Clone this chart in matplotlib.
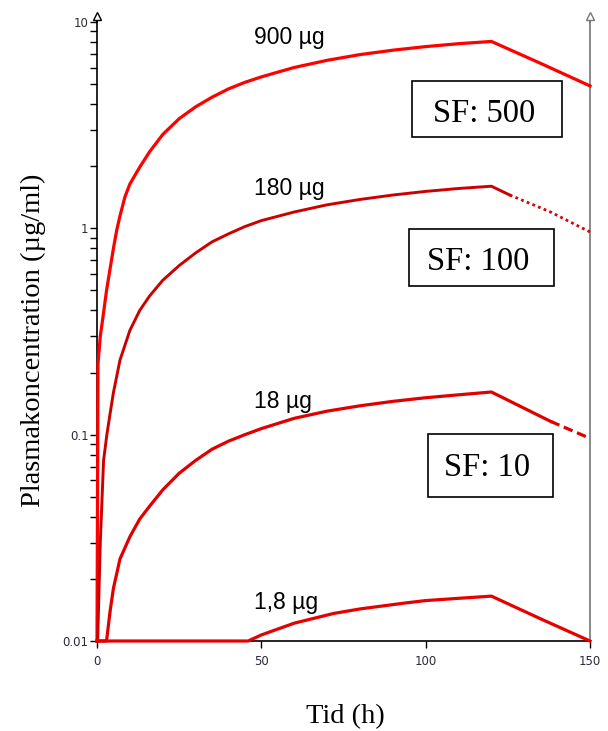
import matplotlib.pyplot as plt
from matplotlib.patches import Rectangle

W, H = 608, 731

# time grid (h) and read-off concentrations (ug/ml)
t900 = [0, 0.3, 1, 1.9, 2.9, 4, 5, 6, 7, 8.5, 10, 13, 16, 20, 25, 30, 35, 40, 45, 50, 60, 70, 80, 90, 100,
        110, 120, 135, 150]
c900 = [0.01, 0.22, 0.3, 0.38, 0.5, 0.64, 0.8, 0.98, 1.15, 1.42, 1.64, 1.98, 2.35, 2.85, 3.4, 3.88, 4.32,
        4.74, 5.1, 5.42, 6.02, 6.52, 6.95, 7.3, 7.6, 7.85, 8.05, 6.3, 4.9]

t180 = [0.2, 1, 2, 3, 4, 5, 7, 10, 13, 16, 20, 25, 30, 35, 40, 45, 50, 60, 70, 80, 90, 100, 110, 120, 125.6]
c180 = [0.01, 0.03, 0.075, 0.1, 0.127, 0.16, 0.23, 0.32, 0.4, 0.47, 0.56, 0.66, 0.76, 0.86, 0.94, 1.02, 1.09,
        1.2, 1.3, 1.38, 1.45, 1.51, 1.56, 1.6, 1.45]
t180_fall = [125.6, 138, 150]
c180_fall = [1.45, 1.2, 0.96]

t18 = [0, 2.9, 4, 5, 7, 10, 13, 16, 20, 25, 30, 35, 40, 45, 50, 60, 70, 80, 90, 100, 110, 120, 138]
c18 = [0.01, 0.01, 0.014, 0.018, 0.025, 0.032, 0.039, 0.045, 0.054, 0.065, 0.075, 0.085, 0.093, 0.1, 0.107,
       0.12, 0.13, 0.138, 0.145, 0.151, 0.156, 0.161, 0.116]
t18_fall = [138, 150]
c18_fall = [0.116, 0.096]

t1_8 = [0, 46, 50, 60, 72, 80, 94, 100, 110, 120, 135, 150]
c1_8 = [0.01, 0.01, 0.0107, 0.0122, 0.0136, 0.0143, 0.0153, 0.0157, 0.0161, 0.0165, 0.0128, 0.01]

dose_labels = ['900 µg', '180 µg', '18 µg', '1,8 µg']
sf_labels = ['SF: 500', 'SF: 100', 'SF: 10']

fig = plt.figure(figsize=(W / 100, H / 100), dpi=100)
ax = fig.add_axes([97 / W, 1 - 641 / H, 493 / W, (641 - 22) / H])

lw = 2.3
ax.plot(t900, c900, color='#ff0000', lw=lw, zorder=4, clip_on=False)
ax.plot(t180, c180, color='#cc0000', lw=2.1, zorder=4, clip_on=False)
ax.plot(t180_fall, c180_fall, color='#dd0000', lw=2.0, ls=(0, (1, 1.2)), zorder=4, clip_on=False)
ax.plot(t18, c18, color='#e00000', lw=lw, zorder=4, clip_on=False)
ax.plot(t18_fall, c18_fall, color='#e00000', lw=lw, ls=(0, (3, 1.5)), zorder=4, clip_on=False)
ax.plot(t1_8, c1_8, color='#e60000', lw=lw, zorder=4, clip_on=False)

ax.set_yscale('log')
ax.set_xlim(0, 150)
ax.set_ylim(0.01, 10)
ax.set_xticks([0, 50, 100, 150])
ax.set_yticks([0.01, 0.1, 1, 10])
ax.set_yticklabels(['0.01', '0.1', '1', '10'])

ax.spines['top'].set_visible(False)
ax.spines['left'].set_linewidth(1.2)
ax.spines['bottom'].set_linewidth(1.2)
ax.spines['right'].set_color('#777777')
ax.spines['right'].set_linewidth(1.2)
ax.tick_params(axis='y', which='major', length=5, width=1, labelsize=8.5,
               labelcolor='#2a2a3a', pad=1)
ax.tick_params(axis='y', which='minor', length=5, width=1)
ax.tick_params(axis='x', length=5, width=1, labelsize=8.5, labelcolor='#2a2a3a', pad=5)
ax.tick_params(right=False, which='both')

# axis arrows
for xa, col in [(0, 'black'), (1, '#777777')]:
    ax.plot([xa, xa], [1, 1.01], transform=ax.transAxes, color=col, lw=1.2, clip_on=False)
    ax.plot(xa, 1.01, marker='^', ms=6, mfc='white', mec=col, mew=1,
            transform=ax.transAxes, clip_on=False)


def fx(px):
    return px / W


def fy(py):
    return 1 - py / H


serif = ['Liberation Serif', 'DejaVu Serif']
sans = ['Liberation Sans', 'DejaVu Sans']

fig.text(fx(345), fy(717), 'Tid (h)', family=serif, fontsize=20.5, ha='center', va='center')
fig.text(fx(33), fy(340), 'Plasmakoncentration (µg/ml)', family=serif, fontsize=20.5,
         rotation=90, ha='center', va='center')

for lab, py in zip(dose_labels, [44, 195, 408, 609]):
    fig.text(fx(254), fy(py), lab, family=sans, fontsize=16.5, ha='left', va='baseline')

boxes = [(412, 81, 562, 137, 122), (409, 229, 554, 286, 270), (428, 434, 553, 497, 476)]
for lab, (x0, y0, x1, y1, base) in zip(sf_labels, boxes):
    fig.add_artist(Rectangle((fx(x0), fy(y1)), (x1 - x0) / W, (y1 - y0) / H,
                             transform=fig.transFigure, fill=False, ec='black', lw=1.2))
    fig.text(fx((x0 + x1) / 2 - 3), fy(base), lab, family=serif, fontsize=23.5,
             ha='center', va='baseline')

fig.savefig('out.png', dpi=100)
